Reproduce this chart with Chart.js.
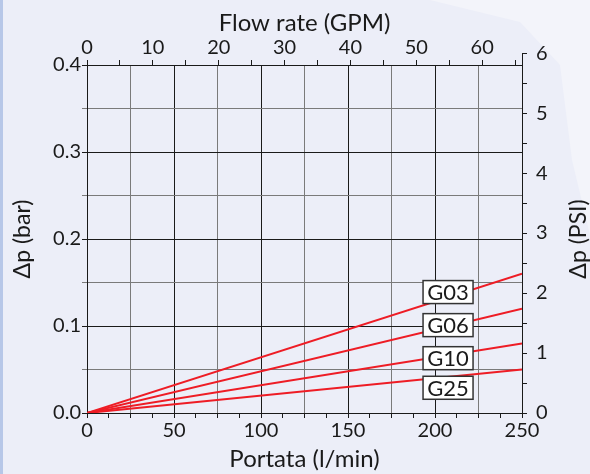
<!DOCTYPE html>
<html>
<head>
<meta charset="utf-8">
<script src="https://cdn.jsdelivr.net/npm/chart.js@4/dist/chart.umd.min.js"></script>
<style>
    html, body { margin: 0; padding: 0; background: #eef0f8; }
    #wrap { width: 590px; height: 474px; }
</style>
</head>
<body>
<div id="wrap"><canvas id="chart" width="590" height="474"></canvas></div>
<script>
    // Flow in l/min, pressure drop in bar
    const seriesNames = ['G03', 'G06', 'G10', 'G25'];
    const flowRange = [0, 250];
    const dropAtMaxFlow = [0.16, 0.12, 0.08, 0.05];

    // where each series tag sits (l/min, bar)
    const tagFlow = [207.5, 207.5, 207.5, 207.5];
    const tagDrop = [0.139, 0.101, 0.063, 0.029];

    const flowTicks = [0, 50, 100, 150, 200, 250];
    const gpmTicks = [0, 10, 20, 30, 40, 50, 60];
    const barTicks = [0, 0.1, 0.2, 0.3, 0.4];
    const psiTicks = [0, 1, 2, 3, 4, 5, 6];

    const LPM_PER_GPM = 3.78541;
    const BAR_PER_PSI = 0.0689476;

    const FONT = 'Lato, "Open Sans", sans-serif';
    const INK = '#1a1a1a';
    const GREY = '#7a7a7a';

    // labelled ticks plus the halfway ones between them
    function withHalves(ticks) {
        const out = [];
        ticks.forEach((v, i) => {
            out.push(v);
            if (i < ticks.length - 1) {
                out.push((v + ticks[i + 1]) / 2);
            }
        });
        return out;
    }

    function isOn(value, list) {
        return list.some((v) => Math.abs(v - value) < 1e-9);
    }

    const datasets = seriesNames.map((name, i) => ({
        label: name,
        data: [
            {x: flowRange[0], y: 0},
            {x: flowRange[1], y: dropAtMaxFlow[i]},
        ],
        borderColor: '#ee1c25',
        borderWidth: 2,
        pointRadius: 0,
        showLine: true,
        tension: 0,
    }));

    const background = {
        id: 'background',
        beforeDraw(chart) {
            const ctx = chart.ctx;
            ctx.save();
            ctx.fillStyle = '#eceef8';
            ctx.fillRect(0, 0, chart.width, chart.height);
            ctx.fillStyle = '#f3f4fa';
            ctx.beginPath();
            ctx.moveTo(430, 0);
            ctx.lineTo(590, 0);
            ctx.lineTo(590, 235);
            ctx.lineTo(572, 160);
            ctx.lineTo(560, 65);
            ctx.lineTo(520, 22);
            ctx.closePath();
            ctx.fill();
            ctx.fillStyle = '#b7c7e8';
            ctx.fillRect(0, 0, 3, chart.height);
            ctx.restore();
        },
    };

    const extras = {
        id: 'extras',
        afterDatasetsDraw(chart) {
            const ctx = chart.ctx;
            const x = chart.scales.x;
            const y = chart.scales.y;

            ctx.save();
            ctx.font = '22px ' + FONT;
            ctx.textAlign = 'center';
            ctx.textBaseline = 'middle';
            seriesNames.forEach((name, i) => {
                const px = x.getPixelForValue(tagFlow[i]);
                const py = y.getPixelForValue(tagDrop[i]);
                const w = 50;
                const h = 23;
                ctx.fillStyle = '#ffffff';
                ctx.fillRect(px - w / 2, py - h / 2, w, h);
                ctx.strokeStyle = '#333333';
                ctx.lineWidth = 1.5;
                ctx.strokeRect(px - w / 2, py - h / 2, w, h);
                ctx.fillStyle = INK;
                ctx.fillText(name, px, py + 1);
            });
            ctx.restore();
        },
        afterDraw(chart) {
            const ctx = chart.ctx;
            const y2 = chart.scales.y2;
            const area = chart.chartArea;
            const top = y2.getPixelForValue(psiTicks[psiTicks.length - 1]);

            ctx.save();
            // right axis keeps going up to its last tick
            ctx.strokeStyle = INK;
            ctx.lineWidth = 1;
            ctx.beginPath();
            ctx.moveTo(area.right + 0.5, area.top);
            ctx.lineTo(area.right + 0.5, Math.round(top));
            ctx.stroke();

            // right axis title reads bottom to top
            ctx.translate(579, (area.top + area.bottom) / 2);
            ctx.rotate(-Math.PI / 2);
            ctx.font = '23px ' + FONT;
            ctx.fillStyle = INK;
            ctx.textAlign = 'center';
            ctx.textBaseline = 'middle';
            ctx.fillText('\u0394p (PSI)', 0, 0);
            ctx.restore();
        },
    };

    new Chart(document.getElementById('chart'), {
        type: 'scatter',
        data: {datasets},
        options: {
            responsive: false,
            animation: false,
            layout: {padding: 0},
            plugins: {
                legend: {display: false},
                tooltip: {enabled: false},
            },
            scales: {
                x: {
                    type: 'linear',
                    position: 'bottom',
                    min: flowRange[0],
                    max: flowRange[1],
                    afterBuildTicks(axis) {
                        axis.ticks = withHalves(withHalves(flowTicks)).map((value) => ({value}));
                    },
                    afterFit(axis) {
                        axis.height = 61;
                    },
                    ticks: {
                        color: INK,
                        font: {family: FONT, size: 20},
                        padding: 1,
                        maxRotation: 0,
                        autoSkip: false,
                        callback: (value) => (isOn(value, flowTicks) ? String(value) : ''),
                    },
                    grid: {
                        color: (ctx) => {
                            const v = ctx.tick ? ctx.tick.value : 0;
                            if (isOn(v, flowTicks)) return INK;
                            if (isOn(v, withHalves(flowTicks))) return GREY;
                            return 'rgba(0,0,0,0)';
                        },
                        lineWidth: 1,
                        tickLength: 5,
                        tickColor: INK,
                    },
                    border: {color: INK, width: 1},
                    title: {
                        display: true,
                        text: 'Portata (l/min)',
                        color: INK,
                        font: {family: FONT, size: 24},
                        padding: {top: 0, bottom: 0},
                    },
                },
                x2: {
                    type: 'linear',
                    position: 'top',
                    min: flowRange[0] / LPM_PER_GPM,
                    max: flowRange[1] / LPM_PER_GPM,
                    afterBuildTicks(axis) {
                        axis.ticks = withHalves(gpmTicks).concat([65]).map((value) => ({value}));
                    },
                    afterFit(axis) {
                        axis.height = 65;
                    },
                    ticks: {
                        color: INK,
                        font: {family: FONT, size: 20},
                        padding: 0,
                        maxRotation: 0,
                        autoSkip: false,
                        callback: (value) => (isOn(value, gpmTicks) ? String(value) : ''),
                    },
                    grid: {
                        drawOnChartArea: false,
                        tickLength: 5,
                        tickColor: INK,
                    },
                    border: {color: INK, width: 1},
                    title: {
                        display: true,
                        text: 'Flow rate (GPM)',
                        color: INK,
                        font: {family: FONT, size: 24},
                        padding: {top: 9, bottom: 0},
                    },
                },
                y: {
                    type: 'linear',
                    position: 'left',
                    min: barTicks[0],
                    max: barTicks[barTicks.length - 1],
                    afterBuildTicks(axis) {
                        axis.ticks = withHalves(barTicks).map((value) => ({value}));
                    },
                    afterFit(axis) {
                        axis.width = 87;
                    },
                    ticks: {
                        color: INK,
                        font: {family: FONT, size: 20},
                        padding: 1,
                        autoSkip: false,
                        callback: (value) => (isOn(value, barTicks) ? value.toFixed(1) : ''),
                    },
                    grid: {
                        color: (ctx) => {
                            const v = ctx.tick ? ctx.tick.value : 0;
                            return isOn(v, barTicks) ? INK : GREY;
                        },
                        tickColor: (ctx) => {
                            const v = ctx.tick ? ctx.tick.value : 0;
                            return isOn(v, barTicks) ? INK : GREY;
                        },
                        lineWidth: 1,
                        tickLength: 5,
                    },
                    border: {color: INK, width: 1},
                    title: {
                        display: true,
                        text: '\u0394p (bar)',
                        color: INK,
                        font: {family: FONT, size: 23},
                        padding: {top: 9, bottom: 0},
                    },
                },
                y2: {
                    type: 'linear',
                    position: 'right',
                    min: barTicks[0] / BAR_PER_PSI,
                    max: barTicks[barTicks.length - 1] / BAR_PER_PSI,
                    afterBuildTicks(axis) {
                        axis.ticks = withHalves(psiTicks).map((value) => ({value}));
                    },
                    afterFit(axis) {
                        axis.width = 68;
                    },
                    ticks: {
                        color: INK,
                        font: {family: FONT, size: 20},
                        padding: 9,
                        autoSkip: false,
                        callback: (value) => (isOn(value, psiTicks) ? String(value) : ''),
                    },
                    grid: {
                        drawOnChartArea: false,
                        tickLength: 5,
                        tickColor: INK,
                    },
                    border: {color: INK, width: 1},
                },
            },
        },
        plugins: [background, extras],
    });
</script>
</body>
</html>
